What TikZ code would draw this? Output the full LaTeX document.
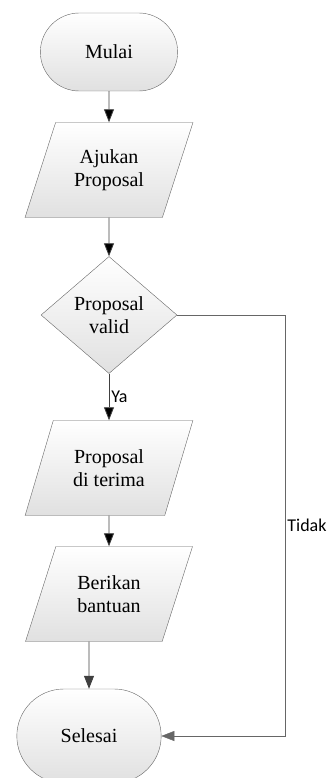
\documentclass[tikz,border=0pt]{standalone}
\usepackage{fontspec}
\setmainfont{Liberation Serif}
\newfontfamily\labelfont{Carlito}
\usetikzlibrary{arrows.meta,positioning}
\usetikzlibrary{shapes.geometric,shapes.misc}

\definecolor{garis}{RGB}{64,64,64}

\begin{document}
\begin{tikzpicture}[>={Triangle[length=13pt,width=10pt]}, node distance=135pt, x=1pt, y=1pt]
		\tikzstyle{isi} = [top color=white, bottom color=black!12, draw=garis!80, thin, font=\fontsize{20}{23}\selectfont, align=center]
		\tikzstyle{terminal} = [isi, rounded rectangle, minimum width=144pt, minimum height=78pt]
		\tikzstyle{data} = [isi, trapezium, trapezium left angle=64, trapezium right angle=116, trapezium stretches=true, minimum width=168pt, minimum height=95pt, inner sep=0pt]
		\tikzstyle{keputusan} = [isi, diamond, aspect=1.16, minimum width=136pt, minimum height=117pt, inner sep=0pt]
		\tikzstyle{teks} = [font=\labelfont\fontsize{18}{20}\selectfont, inner sep=2pt]

		\useasboundingbox (0,0) rectangle (331,-778);

		\node[terminal] (mulai) at (109,-52) {Mulai};
		\node[data, below of=mulai, yshift=17pt] (ajukan) {Ajukan\\Proposal};
		\node[keputusan, below of=ajukan, yshift=-10pt] (valid) {Proposal\\valid};
		\node[data, below of=valid, yshift=-18pt] (terima) {Proposal\\di terima};
		\node[data, below of=terima, yshift=9pt] (berikan) {Berikan\\bantuan};
		\node[terminal, below of=berikan, yshift=-7pt, xshift=-20pt, minimum width=151pt, minimum height=94pt] (selesai) {Selesai};
		\coordinate (keluar) at (selesai |- berikan.south);

		\path[->, draw=garis, thick]
		(mulai) edge (ajukan)
		(ajukan) edge (valid)
		(valid) edge node[teks, right, pos=0.5] {Ya} (terima)
		(terima) edge (berikan)
		;
		\draw[->, draw=garis, thick] (keluar) -- (selesai);
		\draw[->, draw=garis!80, thin] (valid.east) -- ++(108,0) |- node[teks, right, pos=0.25] {Tidak} (selesai.east);
\end{tikzpicture}
\end{document}
